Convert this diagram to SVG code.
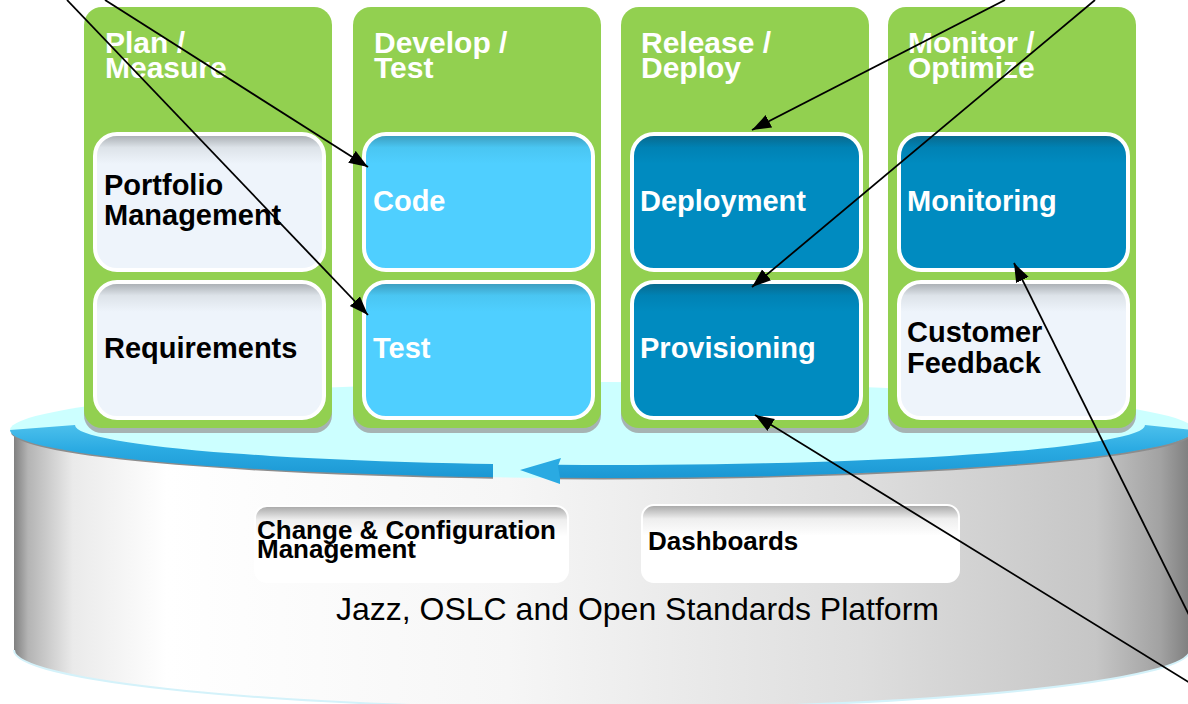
<svg xmlns="http://www.w3.org/2000/svg" width="1188" height="704" viewBox="0 0 1188 704">
<style>
.col{fill:#92D050;}
.shadow{fill:#9A9A9A;opacity:0.75;}
.box{stroke:#FFFFFF;stroke-width:4;}
.hdr{font-family:"Liberation Sans",Arial,sans-serif;font-weight:bold;font-size:30px;fill:#FFFFFF;}
.lbl{font-family:"Liberation Sans",Arial,sans-serif;font-weight:bold;font-size:29px;}
.dark{fill:#000000;}
.light{fill:#FFFFFF;}
.plat{font-family:"Liberation Sans",Arial,sans-serif;font-weight:bold;font-size:26px;fill:#000000;}
.base{font-family:"Liberation Sans",Arial,sans-serif;font-size:32px;fill:#000000;}
.conn{stroke:#000000;stroke-width:1.8;fill:none;marker-end:url(#ah);}
</style>
<defs>
<marker id="ah" markerUnits="userSpaceOnUse" markerWidth="21" markerHeight="15" refX="19" refY="7" orient="auto">
<path d="M0,0 L19,7 L0,14 Z" fill="#000000"/>
</marker>
<linearGradient id="gLight" x1="0" y1="0" x2="0" y2="1">
<stop offset="0" stop-color="#A4A9AE"/>
<stop offset="0.1" stop-color="#DDE3E9"/>
<stop offset="0.22" stop-color="#EEF4FB"/>
<stop offset="1" stop-color="#EEF4FB"/>
</linearGradient>
<linearGradient id="gCyan" x1="0" y1="0" x2="0" y2="1">
<stop offset="0" stop-color="#3A98B8"/>
<stop offset="0.1" stop-color="#4AC6F2"/>
<stop offset="0.22" stop-color="#4FCFFF"/>
<stop offset="1" stop-color="#4FCFFF"/>
</linearGradient>
<linearGradient id="gDeep" x1="0" y1="0" x2="0" y2="1">
<stop offset="0" stop-color="#0A6688"/>
<stop offset="0.1" stop-color="#0082B4"/>
<stop offset="0.22" stop-color="#008BC0"/>
<stop offset="1" stop-color="#008BC0"/>
</linearGradient>
<linearGradient id="gPlat" x1="0" y1="0" x2="0" y2="1">
<stop offset="0" stop-color="#A6A6A6"/>
<stop offset="0.18" stop-color="#EEEEEE"/>
<stop offset="0.4" stop-color="#FFFFFF"/>
<stop offset="1" stop-color="#FFFFFF"/>
</linearGradient>
<linearGradient id="gBody" x1="14" y1="0" x2="1190" y2="0" gradientUnits="userSpaceOnUse">
<stop offset="0" stop-color="#808080"/>
<stop offset="0.012" stop-color="#B4B4B4"/>
<stop offset="0.05" stop-color="#EAEAEA"/>
<stop offset="0.13" stop-color="#FFFFFF"/>
<stop offset="0.42" stop-color="#F6F6F6"/>
<stop offset="0.72" stop-color="#DEDEDE"/>
<stop offset="0.92" stop-color="#C6C6C6"/>
<stop offset="0.975" stop-color="#A2A2A2"/>
<stop offset="1" stop-color="#7E7E7E"/>
</linearGradient>
<linearGradient id="gRing" x1="0" y1="420" x2="0" y2="480" gradientUnits="userSpaceOnUse">
<stop offset="0" stop-color="#52C4EE"/>
<stop offset="0.5" stop-color="#2AAAE2"/>
<stop offset="1" stop-color="#1A96D2"/>
</linearGradient>
<clipPath id="ringClip">
<rect x="0" y="380" width="493" height="120"/>
<rect x="556" y="380" width="640" height="120"/>
</clipPath>
</defs>

<g id="platform">
<path d="M14,430 L14,650 A588,58 0 0,0 1190,650 L1190,430 Z" fill="url(#gBody)"/>
<path d="M14,650 A588,58 0 0,0 1190,650" fill="none" stroke="#D4F2FA" stroke-width="2"/>
<ellipse cx="602" cy="430" rx="592" ry="48" fill="#CCFFFF"/>
<path d="M12,433 A592,48 0 0,0 1194,433" fill="none" stroke="#8C8C8C" stroke-width="2.5" clip-path="url(#ringClip)"/>
<path d="M10,430 A592,48 0 0,0 1194,430 L1145,425 A535,40 0 0,1 75,425 Z" fill="url(#gRing)" clip-path="url(#ringClip)"/>
<polygon points="520,470 561,458 558,466 560,478 560,484" fill="#2AAAE2"/>
</g>

<g id="col-plan">
<rect class="shadow" x="84" y="12" width="248" height="421" rx="18"/>
<rect class="col" x="84" y="7" width="248" height="421" rx="18"/>
<text class="hdr" x="105" y="53">Plan /</text>
<text class="hdr" x="105" y="78">Measure</text>
</g>
<g id="col-develop">
<rect class="shadow" x="353" y="12" width="248" height="421" rx="18"/>
<rect class="col" x="353" y="7" width="248" height="421" rx="18"/>
<text class="hdr" x="374" y="53">Develop /</text>
<text class="hdr" x="374" y="78">Test</text>
</g>
<g id="col-release">
<rect class="shadow" x="621" y="12" width="248" height="421" rx="18"/>
<rect class="col" x="621" y="7" width="248" height="421" rx="18"/>
<text class="hdr" x="641" y="53">Release /</text>
<text class="hdr" x="641" y="78">Deploy</text>
</g>
<g id="col-monitor">
<rect class="shadow" x="888" y="12" width="248" height="421" rx="18"/>
<rect class="col" x="888" y="7" width="248" height="421" rx="18"/>
<text class="hdr" x="908" y="53">Monitor /</text>
<text class="hdr" x="908" y="78">Optimize</text>
</g>

<g id="portfolio">
<rect class="box" x="95" y="134" width="229" height="136" rx="22" fill="url(#gLight)"/>
<text class="lbl dark" x="104" y="195">Portfolio</text>
<text class="lbl dark" x="104" y="225">Management</text>
</g>
<g id="requirements">
<rect class="box" x="95" y="282" width="229" height="136" rx="22" fill="url(#gLight)"/>
<text class="lbl dark" x="104" y="358">Requirements</text>
</g>
<g id="code">
<rect class="box" x="364" y="134" width="229" height="136" rx="22" fill="url(#gCyan)"/>
<text class="lbl light" x="373" y="211">Code</text>
</g>
<g id="test">
<rect class="box" x="364" y="282" width="229" height="136" rx="22" fill="url(#gCyan)"/>
<text class="lbl light" x="373" y="358">Test</text>
</g>
<g id="deployment">
<rect class="box" x="632" y="134" width="229" height="136" rx="22" fill="url(#gDeep)"/>
<text class="lbl light" x="640" y="211">Deployment</text>
</g>
<g id="provisioning">
<rect class="box" x="632" y="282" width="229" height="136" rx="22" fill="url(#gDeep)"/>
<text class="lbl light" x="640" y="358">Provisioning</text>
</g>
<g id="monitoring">
<rect class="box" x="899" y="134" width="229" height="136" rx="22" fill="url(#gDeep)"/>
<text class="lbl light" x="907" y="211">Monitoring</text>
</g>
<g id="feedback">
<rect class="box" x="899" y="282" width="229" height="136" rx="22" fill="url(#gLight)"/>
<text class="lbl dark" x="907" y="342">Customer</text>
<text class="lbl dark" x="907" y="373">Feedback</text>
</g>

<g id="ccm">
<rect x="255" y="506" width="313" height="76" rx="12" fill="url(#gPlat)" stroke="#FFFFFF" stroke-width="2"/>
<text class="plat" x="257" y="539" font-size="26.5">Change &amp; Configuration</text>
<text class="plat" x="257" y="558" font-size="26.5">Management</text>
</g>
<g id="dashboards">
<rect x="642" y="505" width="317" height="77" rx="12" fill="url(#gPlat)" stroke="#FFFFFF" stroke-width="2"/>
<text class="plat" x="648" y="550">Dashboards</text>
</g>
<text class="base" x="336" y="620">Jazz, OSLC and Open Standards Platform</text>

<g id="connectors">
<line class="conn" x1="105" y1="0" x2="368" y2="167"/>
<line class="conn" x1="67" y1="0" x2="368" y2="315"/>
<line class="conn" x1="1005" y1="0" x2="752" y2="130"/>
<line class="conn" x1="1095" y1="0" x2="752" y2="287"/>
<line class="conn" x1="1195" y1="686" x2="755" y2="415"/>
<line class="conn" x1="1195" y1="627" x2="1014" y2="263"/>
</g>
</svg>
